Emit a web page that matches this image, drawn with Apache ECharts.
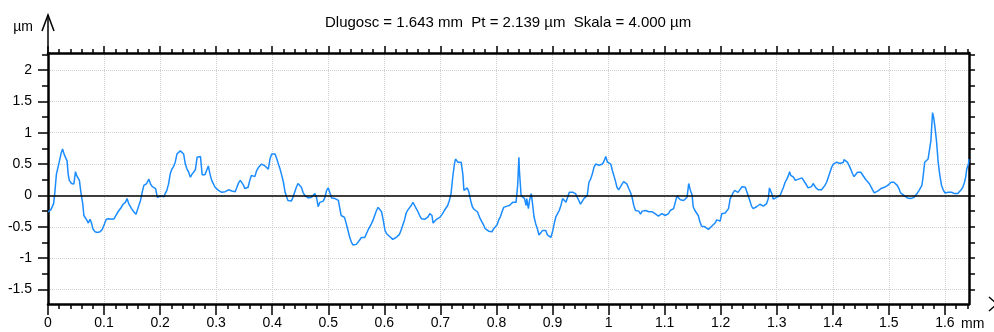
<!DOCTYPE html>
<html>
<head>
<meta charset="utf-8">
<script src="https://cdn.jsdelivr.net/npm/echarts@6/dist/echarts.min.js"></script>
<style>
  html, body { margin: 0; padding: 0; background: #fff; }
  #chart { width: 994px; height: 332px; }
</style>
</head>
<body>
<div id="chart"></div>
<script>
// profile: position along the trace (mm) and height (µm)
var posMm = [
  0, 0.005, 0.01, 0.012, 0.015, 0.02, 0.023, 0.026, 0.029, 0.034,
  0.036, 0.038, 0.042, 0.046, 0.047, 0.049, 0.051, 0.056, 0.059, 0.062,
  0.064, 0.069, 0.072, 0.075, 0.078, 0.08, 0.084, 0.088, 0.093, 0.097,
  0.1, 0.104, 0.108, 0.111, 0.114, 0.118, 0.121, 0.125, 0.13, 0.134,
  0.138, 0.141, 0.144, 0.149, 0.153, 0.157, 0.161, 0.165, 0.168, 0.171,
  0.176, 0.18, 0.183, 0.186, 0.189, 0.192, 0.195, 0.198, 0.201, 0.204,
  0.207, 0.209, 0.212, 0.215, 0.218, 0.221, 0.224, 0.227, 0.23, 0.233,
  0.236, 0.239, 0.242, 0.245, 0.248, 0.251, 0.254, 0.257, 0.26, 0.263,
  0.266, 0.269, 0.272, 0.275, 0.278, 0.28, 0.283, 0.286, 0.289, 0.292,
  0.295, 0.298, 0.301, 0.304, 0.307, 0.31, 0.313, 0.316, 0.319, 0.322,
  0.325, 0.328, 0.331, 0.334, 0.337, 0.34, 0.343, 0.346, 0.349, 0.351,
  0.354, 0.357, 0.36, 0.363, 0.366, 0.369, 0.372, 0.375, 0.378, 0.381,
  0.384, 0.387, 0.39, 0.393, 0.396, 0.399, 0.402, 0.405, 0.408, 0.411,
  0.414, 0.417, 0.42, 0.423, 0.426, 0.428, 0.431, 0.434, 0.437, 0.44,
  0.443, 0.446, 0.449, 0.452, 0.455, 0.458, 0.461, 0.464, 0.467, 0.47,
  0.473, 0.476, 0.479, 0.482, 0.485, 0.488, 0.491, 0.494, 0.497, 0.5,
  0.503, 0.506, 0.509, 0.512, 0.515, 0.518, 0.52, 0.523, 0.526, 0.529,
  0.532, 0.535, 0.538, 0.541, 0.544, 0.547, 0.55, 0.553, 0.556, 0.559,
  0.562, 0.565, 0.568, 0.571, 0.574, 0.577, 0.58, 0.583, 0.586, 0.589,
  0.592, 0.595, 0.598, 0.601, 0.604, 0.607, 0.609, 0.612, 0.615, 0.618,
  0.621, 0.624, 0.627, 0.63, 0.633, 0.636, 0.639, 0.642, 0.645, 0.648,
  0.651, 0.654, 0.657, 0.66, 0.663, 0.666, 0.669, 0.672, 0.675, 0.678,
  0.681, 0.684, 0.685, 0.687, 0.69, 0.693, 0.696, 0.699, 0.701, 0.704,
  0.707, 0.71, 0.713, 0.716, 0.719, 0.722, 0.725, 0.727, 0.729, 0.731,
  0.734, 0.737, 0.74, 0.742, 0.745, 0.748, 0.751, 0.754, 0.757, 0.76,
  0.763, 0.766, 0.769, 0.771, 0.774, 0.777, 0.78, 0.783, 0.786, 0.789,
  0.792, 0.795, 0.798, 0.801, 0.804, 0.807, 0.81, 0.813, 0.816, 0.819,
  0.823, 0.826, 0.829, 0.832, 0.835, 0.837, 0.838, 0.84, 0.841, 0.844,
  0.847, 0.85, 0.853, 0.854, 0.857, 0.859, 0.862, 0.863, 0.865, 0.867,
  0.87, 0.873, 0.876, 0.879, 0.882, 0.885, 0.888, 0.891, 0.894, 0.897,
  0.9, 0.903, 0.906, 0.909, 0.912, 0.915, 0.918, 0.921, 0.924, 0.927,
  0.93, 0.933, 0.936, 0.938, 0.941, 0.944, 0.947, 0.95, 0.953, 0.956,
  0.959, 0.962, 0.965, 0.968, 0.971, 0.974, 0.977, 0.98, 0.983, 0.986,
  0.989, 0.992, 0.995, 0.998, 1.001, 1.004, 1.007, 1.009, 1.012, 1.015,
  1.018, 1.021, 1.024, 1.027, 1.03, 1.033, 1.036, 1.039, 1.042, 1.045,
  1.048, 1.051, 1.054, 1.057, 1.06, 1.063, 1.066, 1.069, 1.072, 1.075,
  1.078, 1.08, 1.083, 1.086, 1.089, 1.092, 1.095, 1.098, 1.101, 1.104,
  1.107, 1.11, 1.113, 1.116, 1.119, 1.122, 1.125, 1.128, 1.131, 1.134,
  1.137, 1.14, 1.143, 1.146, 1.149, 1.151, 1.154, 1.157, 1.16, 1.163,
  1.166, 1.169, 1.172, 1.175, 1.178, 1.181, 1.184, 1.187, 1.19, 1.193,
  1.196, 1.199, 1.202, 1.205, 1.208, 1.211, 1.214, 1.217, 1.22, 1.222,
  1.225, 1.228, 1.231, 1.234, 1.238, 1.241, 1.244, 1.247, 1.25, 1.253,
  1.255, 1.258, 1.261, 1.264, 1.267, 1.27, 1.273, 1.276, 1.279, 1.282,
  1.285, 1.287, 1.288, 1.291, 1.294, 1.297, 1.3, 1.303, 1.306, 1.309,
  1.312, 1.315, 1.318, 1.321, 1.323, 1.325, 1.327, 1.33, 1.333, 1.336,
  1.339, 1.342, 1.345, 1.347, 1.35, 1.353, 1.356, 1.359, 1.362, 1.365,
  1.368, 1.37, 1.372, 1.374, 1.377, 1.38, 1.383, 1.386, 1.389, 1.392,
  1.395, 1.398, 1.401, 1.404, 1.407, 1.41, 1.413, 1.416, 1.419, 1.42,
  1.423, 1.426, 1.429, 1.432, 1.435, 1.438, 1.441, 1.444, 1.447, 1.45,
  1.453, 1.456, 1.459, 1.462, 1.465, 1.468, 1.471, 1.474, 1.477, 1.48,
  1.483, 1.486, 1.489, 1.492, 1.495, 1.498, 1.501, 1.504, 1.507, 1.509,
  1.512, 1.515, 1.518, 1.521, 1.524, 1.527, 1.53, 1.533, 1.536, 1.539,
  1.542, 1.545, 1.548, 1.551, 1.554, 1.557, 1.559, 1.561, 1.564, 1.567,
  1.57, 1.573, 1.575, 1.577, 1.578, 1.58, 1.582, 1.585, 1.588, 1.591,
  1.594, 1.597, 1.6, 1.603, 1.606, 1.609, 1.612, 1.615, 1.617, 1.62,
  1.623, 1.626, 1.629, 1.632, 1.635, 1.637, 1.639, 1.642, 1.643
];
var heightUm = [
  -0.26, -0.23, -0.13, 0.03, 0.34, 0.53, 0.66, 0.74, 0.65, 0.55,
  0.34, 0.24, 0.19, 0.18, 0.24, 0.38, 0.32, 0.24, 0.03, -0.13,
  -0.32, -0.39, -0.44, -0.38, -0.45, -0.53, -0.58, -0.59, -0.58, -0.54,
  -0.47, -0.38, -0.37, -0.39, -0.38, -0.37, -0.32, -0.26, -0.2, -0.14,
  -0.11, -0.05, -0.13, -0.21, -0.26, -0.3, -0.19, -0.08, 0.05, 0.16,
  0.19, 0.26, 0.18, 0.14, 0.12, 0.11, -0.03, -0.03, -0.01, -0.04,
  -0.02, 0.03, 0.08, 0.18, 0.34, 0.42, 0.46, 0.53, 0.66, 0.68,
  0.71, 0.74, 0.66, 0.5, 0.42, 0.37, 0.29, 0.34, 0.37, 0.41,
  0.61, 0.62, 0.62, 0.33, 0.32, 0.33, 0.35, 0.47, 0.34, 0.24,
  0.21, 0.13, 0.11, 0.08, 0.06, 0.05, 0.05, 0.06, 0.07, 0.09,
  0.08, 0.07, 0.08, 0.06, 0.13, 0.2, 0.24, 0.21, 0.16, 0.11,
  0.11, 0.13, 0.24, 0.32, 0.29, 0.3, 0.39, 0.44, 0.46, 0.5,
  0.5, 0.47, 0.45, 0.42, 0.58, 0.66, 0.68, 0.66, 0.59, 0.5,
  0.42, 0.32, 0.21, 0.05, -0.03, -0.08, -0.11, -0.09, -0.03, 0.05,
  0.13, 0.19, 0.18, 0.13, 0.05, 0, -0.02, -0.04, -0.06, -0.03,
  -0.01, 0.03, -0.03, -0.18, -0.11, -0.08, -0.09, -0.03, 0.08, 0.12,
  0.11, -0.04, -0.05, -0.05, -0.05, -0.08, -0.18, -0.32, -0.29, -0.35,
  -0.45, -0.55, -0.66, -0.74, -0.79, -0.81, -0.78, -0.75, -0.71, -0.67,
  -0.68, -0.67, -0.61, -0.55, -0.5, -0.45, -0.39, -0.37, -0.24, -0.19,
  -0.21, -0.26, -0.39, -0.55, -0.61, -0.62, -0.65, -0.66, -0.7, -0.68,
  -0.67, -0.64, -0.62, -0.55, -0.47, -0.39, -0.28, -0.23, -0.2, -0.16,
  -0.11, -0.16, -0.21, -0.26, -0.32, -0.37, -0.39, -0.38, -0.37, -0.34,
  -0.29, -0.26, -0.32, -0.44, -0.41, -0.38, -0.37, -0.35, -0.32, -0.29,
  -0.24, -0.21, -0.16, -0.08, 0.03, 0.29, 0.5, 0.58, 0.61, 0.53,
  0.52, 0.53, 0.34, 0.08, 0.11, 0.12, 0.05, -0.08, -0.18, -0.22,
  -0.24, -0.26, -0.29, -0.37, -0.42, -0.47, -0.53, -0.56, -0.57, -0.57,
  -0.58, -0.53, -0.5, -0.47, -0.39, -0.34, -0.26, -0.19, -0.16, -0.17,
  -0.16, -0.14, -0.11, -0.12, -0.11, -0.13, 0.18, 0.61, 0.39, 0,
  -0.03, -0.05, -0.16, -0.05, -0.21, -0.08, 0.03, -0.03, -0.18, -0.34,
  -0.45, -0.53, -0.63, -0.61, -0.56, -0.56, -0.56, -0.63, -0.66, -0.67,
  -0.58, -0.45, -0.34, -0.29, -0.24, -0.16, -0.05, -0.08, -0.11, -0.03,
  0.05, 0.05, 0.05, 0.04, 0.03, 0, -0.08, -0.14, -0.11, -0.05,
  -0.03, 0, 0.21, 0.26, 0.34, 0.45, 0.5, 0.5, 0.48, 0.49,
  0.5, 0.55, 0.62, 0.53, 0.55, 0.5, 0.39, 0.33, 0.24, 0.13,
  0.09, 0.11, 0.18, 0.22, 0.24, 0.18, 0.11, 0.05, -0.03, -0.16,
  -0.24, -0.25, -0.25, -0.3, -0.25, -0.24, -0.24, -0.26, -0.26, -0.26,
  -0.26, -0.28, -0.29, -0.32, -0.33, -0.33, -0.29, -0.32, -0.32, -0.32,
  -0.29, -0.24, -0.23, -0.21, -0.11, -0.01, 0, -0.07, -0.08, -0.08,
  -0.07, -0.03, 0.19, 0.08, 0.01, -0.18, -0.24, -0.28, -0.32, -0.42,
  -0.49, -0.51, -0.5, -0.51, -0.54, -0.51, -0.49, -0.46, -0.44, -0.39,
  -0.42, -0.41, -0.29, -0.28, -0.28, -0.28, -0.21, -0.05, 0, 0.04,
  0.08, 0.05, 0.05, 0.06, 0.14, 0.17, 0.13, 0.05, -0.03, -0.11,
  -0.17, -0.21, -0.21, -0.18, -0.16, -0.14, -0.16, -0.17, -0.16, -0.13,
  -0.05, 0.12, 0.11, 0.03, -0.06, -0.07, -0.03, 0, 0, 0.02,
  0.13, 0.21, 0.26, 0.32, 0.38, 0.32, 0.3, 0.29, 0.24, 0.25,
  0.26, 0.28, 0.28, 0.25, 0.21, 0.17, 0.12, 0.12, 0.14, 0.19,
  0.2, 0.12, 0.09, 0.09, 0.11, 0.09, 0.11, 0.16, 0.21, 0.29,
  0.37, 0.45, 0.5, 0.53, 0.53, 0.51, 0.51, 0.51, 0.53, 0.57,
  0.55, 0.53, 0.48, 0.42, 0.35, 0.3, 0.33, 0.37, 0.38, 0.37,
  0.34, 0.29, 0.25, 0.22, 0.19, 0.14, 0.09, 0.04, 0.05, 0.07,
  0.09, 0.11, 0.12, 0.13, 0.15, 0.16, 0.19, 0.21, 0.22, 0.21,
  0.21, 0.16, 0.11, 0.04, 0.02, 0, -0.02, -0.04, -0.07, -0.05,
  -0.03, -0.03, 0, 0.04, 0.08, 0.11, 0.16, 0.29, 0.53, 0.55,
  0.58, 0.58, 0.87, 1.18, 1.32, 1.24, 1.11, 0.87, 0.53, 0.32,
  0.16, 0.09, 0.04, 0.05, 0.05, 0.07, 0.05, 0.04, 0.03, 0.03,
  0.03, 0.05, 0.09, 0.13, 0.21, 0.29, 0.42, 0.5, 0.58
];

// axis ranges and labelled ticks
var xMin = 0, xMax = 1.643;
var yMin = -1.73, yMax = 2.27;
var xTicks = [0, 0.1, 0.2, 0.3, 0.4, 0.5, 0.6, 0.7, 0.8, 0.9, 1, 1.1, 1.2, 1.3, 1.4, 1.5, 1.6];
var yTicks = [-1.5, -1, -0.5, 0, 0.5, 1, 1.5, 2];

var titleText = 'Dlugosc = 1.643 mm  Pt = 2.139 \u00b5m  Skala = 4.000 \u00b5m';

// minor ticks: every 0.02 mm and every 0.25 µm
var xMinor = [];
for (var i = 0; i <= 82; i++) xMinor.push(Math.round(i * 2) / 100);
var yMinor = [];
for (var j = -6; j <= 9; j++) yMinor.push(j * 0.25);

var font = "'Liberation Sans', Arial, sans-serif";

function xAxisDef(pos, ticks, len, labels) {
  return {
    type: 'value', position: pos, min: xMin, max: xMax,
    axisLine: { show: labels !== null, onZero: false, lineStyle: { color: '#000', width: 2.5 } },
    axisTick: { show: true, length: len, customValues: ticks, lineStyle: { color: '#000', width: 1.5 } },
    axisLabel: labels ? {
      show: true, customValues: labels, margin: 12, color: '#000', fontSize: 14, fontFamily: font,
      formatter: function (v) { return String(v); }
    } : { show: false },
    splitLine: labels ? { show: true, lineStyle: { color: '#d0d0d0', type: 'dotted', width: 1 } } : { show: false }
  };
}

function yAxisDef(pos, ticks, len, labels) {
  return {
    type: 'value', position: pos, min: yMin, max: yMax,
    axisLine: { show: labels !== null, onZero: false, lineStyle: { color: '#000', width: 2.5 } },
    axisTick: { show: true, length: len, customValues: ticks, lineStyle: { color: '#000', width: 1.5 } },
    axisLabel: labels ? {
      show: true, customValues: labels, margin: 16, color: '#000', fontSize: 14, fontFamily: font,
      formatter: function (v) { return String(v); }
    } : { show: false },
    splitLine: labels ? { show: true, lineStyle: { color: '#d0d0d0', type: 'dotted', width: 1 } } : { show: false }
  };
}

var chart = echarts.init(document.getElementById('chart'), null, { renderer: 'canvas' });

var data = posMm.map(function (x, k) { return [x, heightUm[k]]; });

chart.setOption({
  animation: false,
  backgroundColor: '#fff',
  title: {
    text: titleText,
    left: 320, top: 10,
    textStyle: { fontSize: 15, fontWeight: 'normal', color: '#000', fontFamily: font }
  },
  grid: { left: 48, right: 25, top: 53, bottom: 28 },
  xAxis: [
    xAxisDef('bottom', xTicks, 11, xTicks),
    xAxisDef('bottom', xMinor, 5, null),
    (function () { var a = xAxisDef('top', xTicks, 7, null); a.axisLine.show = true; return a; })(),
    xAxisDef('top', xMinor, 4, null)
  ],
  yAxis: [
    yAxisDef('left', yTicks, 10, yTicks),
    yAxisDef('left', yMinor, 6, null),
    (function () { var a = yAxisDef('right', yMinor, 6, null); a.axisLine.show = true; return a; })()
  ],
  series: [{
    type: 'line',
    xAxisIndex: 0,
    yAxisIndex: 0,
    data: data,
    showSymbol: false,
    lineStyle: { color: '#1a8cff', width: 1.5 },
    markLine: {
      silent: true,
      symbol: 'none',
      label: { show: false },
      lineStyle: { color: '#000', width: 1.5, type: 'solid' },
      data: [{ yAxis: 0 }]
    }
  }],
  graphic: [
    { type: 'polyline', shape: { points: [[48, 53], [48, 15]] }, style: { stroke: '#000', lineWidth: 1.5, fill: null } },
    { type: 'polyline', shape: { points: [[42, 31], [48, 15], [54, 31]] }, style: { stroke: '#000', lineWidth: 1.5, fill: null } },
    { type: 'polyline', shape: { points: [[989, 297], [997, 304], [989, 311]] }, style: { stroke: '#000', lineWidth: 1.5, fill: null } },
    { type: 'text', x: 33, y: 27, style: { text: '\u00b5m', textAlign: 'right', textVerticalAlign: 'middle', fontSize: 14, fontFamily: font, fill: '#000' } },
    { type: 'text', x: 961, y: 317, style: { text: 'mm', textAlign: 'left', textVerticalAlign: 'top', fontSize: 14, fontFamily: font, fill: '#000' } }
  ]
});
</script>
</body>
</html>
